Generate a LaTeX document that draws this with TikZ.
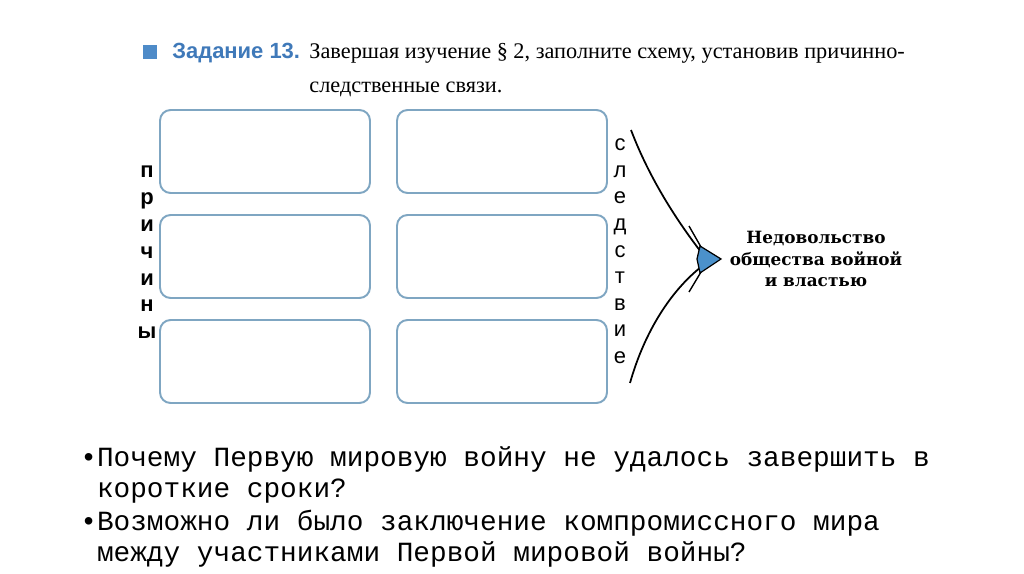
\documentclass[tikz,border=0pt]{standalone}
\usepackage{fontspec}
\setmainfont{Liberation Serif}
\newfontfamily\headfont{Liberation Sans}
\newfontfamily\qfont{Liberation Mono}
\newfontfamily\resfont{DejaVu Serif}
\definecolor{boxblue}{HTML}{7FA6C2}
\definecolor{taskblue}{HTML}{3F79B9}
\definecolor{headblue}{HTML}{4E8BC8}
\definecolor{tipblue}{HTML}{4B91CB}
\tikzset{
  cell/.style={draw=boxblue, line width=1.1pt, rounded corners=6pt, minimum width=4.2cm, minimum height=1.66cm},
  vletter/.style={anchor=base, inner sep=0pt, font=\headfont\fontsize{12}{12}\selectfont},
  question/.style={anchor=base west, inner sep=0pt, align=left, font=\qfont\fontsize{15.8}{17.6}\selectfont}
}
\begin{document}
\begin{tikzpicture}[x=0.02cm, y=-0.02cm]
  \useasboundingbox (0,0) rectangle (1024,574);
  \fill[white] (0,0) rectangle (1024,574);
  % task heading
  \node[fill=headblue, minimum size=0.27cm, inner sep=0pt] (mark) at (150,52) {};
  \node[anchor=base west, inner sep=0pt, text=taskblue, font=\headfont\bfseries\fontsize{12.5}{12.5}\selectfont] (task) at (172,59) {Задание 13.};
  \node[anchor=base west, inner sep=0pt, font=\fontsize{12.7}{12.7}\selectfont] (title1) at (309,59) {Завершая изучение § 2, заполните схему, установив причинно-};
  \node[anchor=base west, inner sep=0pt, font=\fontsize{12.7}{12.7}\selectfont] (title2) at (309,93) {следственные связи.};
  % boxes
  \foreach \r/\y in {1/151.5,2/256.5,3/361.5} {
    \node[cell] (c\r) at (265,\y) {};
    \node[cell] (s\r) at (502,\y) {};
  }
  % vertical words
  \foreach \l [count=\i] in {п,р,и,ч,и,н,ы}
    \node[vletter, font=\headfont\bfseries\fontsize{12.5}{12}\selectfont] (p\i) at (147,151+26.8*\i) {\l};
  \foreach \l [count=\i] in {с,л,е,д,с,т,в,и,е}
    \node[vletter, font=\headfont\fontsize{12.5}{12}\selectfont] (e\i) at (620,124.5+26.5*\i) {\l};
  % result and arrow
  \node[align=center, font=\resfont\bfseries\fontsize{9.6}{12.2}\selectfont] (res) at (816,259) {Недовольство\\общества войной\\и властью};
  \coordinate (tip) at (721,259);
  \coordinate (u0) at (631,130);
  \coordinate (l0) at (630,383);
  \coordinate (n1) at (701,252);
  \coordinate (n2) at (701,267);
  \draw[line width=1pt] (u0) .. controls (650,180) and (678,222) .. (n1);
  \draw[line width=1pt] (l0) .. controls (645,330) and (672,290) .. (n2);
  \filldraw[fill=tipblue, line width=0.7pt] (700,246) -- (tip) -- (700,273) -- (697,259) -- cycle;
  \draw[line width=0.8pt] (689,226) -- (701,247);
  \draw[line width=0.8pt] (689,292) -- (701,272);
  % questions
  \node[question] (q1) at (80,497) {•Почему Первую мировую войну не удалось завершить в\\\hspace*{0.6em}короткие сроки?};
  \node[question] (q2) at (80,561) {•Возможно ли было заключение компромиссного мира\\\hspace*{0.6em}между участниками Первой мировой войны?};
\end{tikzpicture}
\end{document}
